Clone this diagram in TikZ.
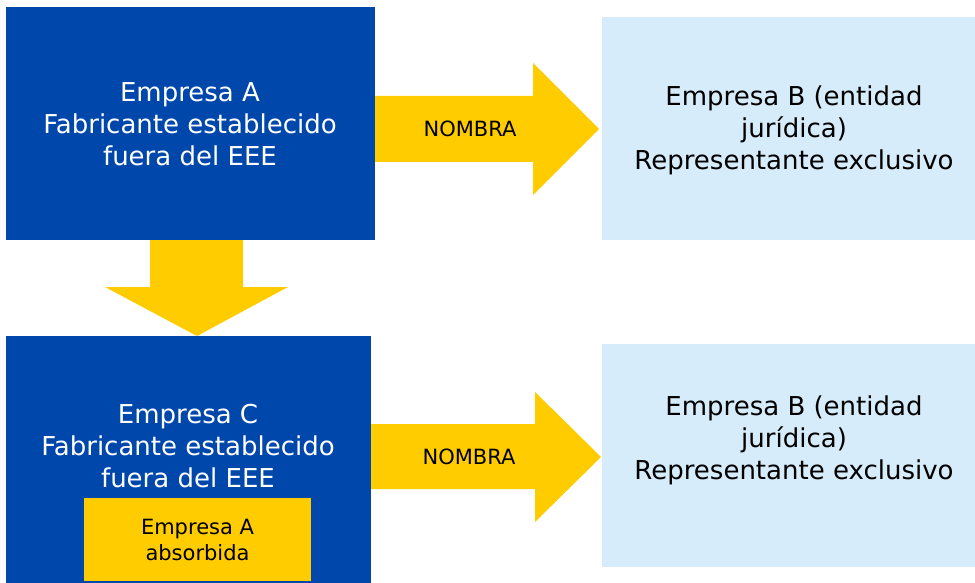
\documentclass[tikz,border=0pt]{standalone}
\usepackage{fontspec}
\setmainfont{DejaVu Sans}
\usepackage{tikz}

\definecolor{eublue}{RGB}{0,71,171}
\definecolor{euyellow}{RGB}{255,204,0}
\definecolor{palblue}{RGB}{214,236,250}

\tikzset{
 bigtext/.style={align=center, font=\fontsize{26}{32}\selectfont},
 smalltext/.style={align=center, font=\fontsize{21}{26}\selectfont}
}

\begin{document}
\begin{tikzpicture}[x=1pt, y=-1pt]
 \useasboundingbox (0,0) rectangle (975,583);

 % cajas
 \fill[eublue] (6,7) rectangle (375,240);
 \fill[eublue] (6,336) rectangle (371,583);
 \fill[palblue] (602,17) rectangle (975,240);
 \fill[palblue] (602,344) rectangle (975,567);
 \fill[euyellow] (84,498) rectangle (311,581);

 % flechas
 \fill[euyellow] (375,96) -- (533,96) -- (533,63) -- (599,129) -- (533,195) -- (533,162) -- (375,162) -- cycle;
 \fill[euyellow] (371,424) -- (535,424) -- (535,392) -- (601,457) -- (535,522) -- (535,489) -- (371,489) -- cycle;
 \fill[euyellow] (150,240) -- (243,240) -- (243,287) -- (288,287) -- (197,336) -- (105,287) -- (150,287) -- cycle;

 % textos
 \node[bigtext, white] (empA) at (190,124) {Empresa A\\Fabricante establecido\\fuera del EEE};
 \node[bigtext, white] (empC) at (188,446) {Empresa C\\Fabricante establecido\\fuera del EEE};
 \node[bigtext] (empB) at (794,130) {Empresa B (entidad\\jurídica)\\Representante exclusivo};
 \node[bigtext] (empBb) at (794,440) {Empresa B (entidad\\jurídica)\\Representante exclusivo};
 \node[smalltext] (nombra) at (470,129) {NOMBRA};
 \node[smalltext] (nombrab) at (469,457) {NOMBRA};
 \node[smalltext] (absA) at (197.5,540) {Empresa A\\absorbida};
\end{tikzpicture}
\end{document}
